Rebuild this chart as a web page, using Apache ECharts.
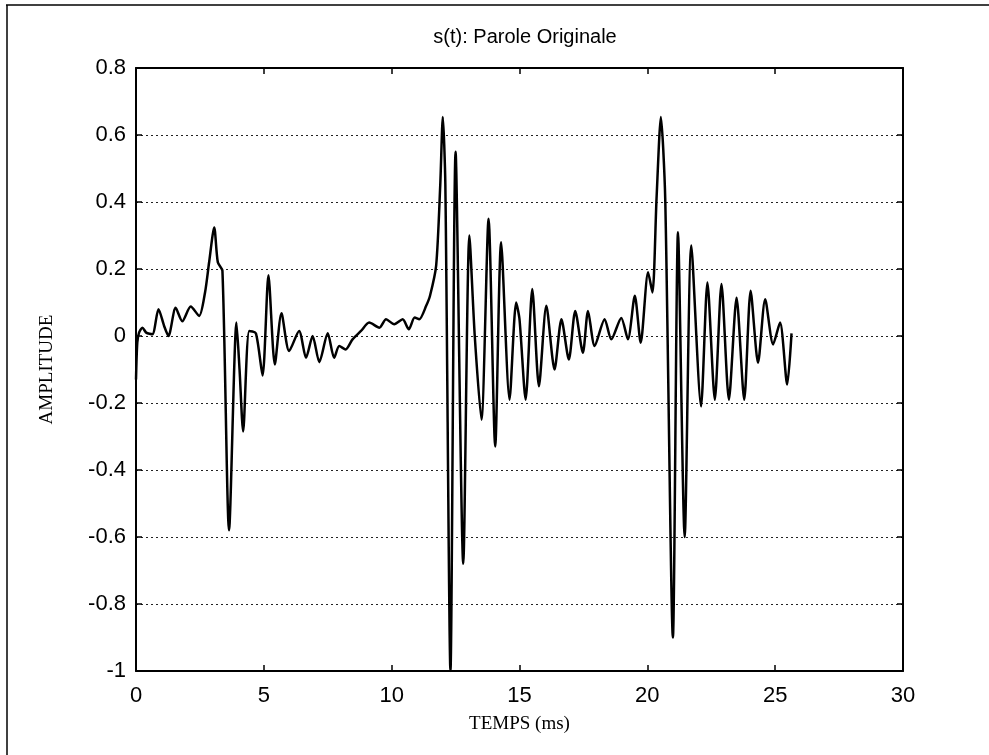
<!DOCTYPE html>
<html>
<head>
<meta charset="utf-8">
<script src="https://cdn.jsdelivr.net/npm/echarts@6/dist/echarts.min.js"></script>
<style>
html,body{margin:0;padding:0;background:#fff;}
#chart{width:989px;height:755px;}
</style>
</head>
<body>
<div id="chart"></div>
<script>
// Time (ms) of the traced points
var timeMs = [0, 0.05, 0.12, 0.25, 0.4, 0.64, 0.88, 1.1, 1.27, 1.55, 1.81, 2.14, 2.47, 2.7, 2.86, 3.06, 3.2, 3.38, 3.64, 3.93, 4.05, 4.19, 4.43, 4.69, 4.95, 5.18, 5.43, 5.69, 5.99, 6.38, 6.65, 6.91, 7.17, 7.5, 7.75, 7.95, 8.2, 8.47, 8.8, 9.12, 9.52, 9.78, 10.1, 10.43, 10.67, 10.9, 11.08, 11.35, 11.5, 11.74, 11.9, 12.0, 12.1, 12.3, 12.5, 12.8, 13.04, 13.25, 13.51, 13.79, 14.05, 14.28, 14.61, 14.87, 15.0, 15.24, 15.5, 15.76, 16.05, 16.37, 16.64, 16.93, 17.18, 17.48, 17.68, 17.94, 18.33, 18.59, 18.98, 19.24, 19.51, 19.74, 20.03, 20.2, 20.36, 20.53, 20.7, 21.0, 21.2, 21.46, 21.72, 22.1, 22.35, 22.64, 22.9, 23.19, 23.49, 23.79, 24.04, 24.33, 24.61, 24.92, 25.19, 25.47, 25.64];
// Amplitude of s(t)
var amplitude = [-0.13, -0.02, 0.01, 0.025, 0.01, 0.005, 0.08, 0.03, 0.0, 0.084, 0.044, 0.088, 0.06, 0.13, 0.22, 0.324, 0.22, 0.195, -0.58, 0.04, -0.1, -0.285, 0.015, 0.008, -0.118, 0.181, -0.085, 0.068, -0.045, 0.015, -0.065, 0.0, -0.078, 0.008, -0.065, -0.03, -0.04, -0.01, 0.015, 0.04, 0.025, 0.05, 0.035, 0.05, 0.02, 0.055, 0.05, 0.09, 0.12, 0.21, 0.45, 0.654, 0.45, -1.0, 0.55, -0.68, 0.30, 0.0, -0.25, 0.35, -0.33, 0.28, -0.19, 0.10, 0.05, -0.19, 0.14, -0.15, 0.09, -0.10, 0.05, -0.07, 0.075, -0.05, 0.075, -0.03, 0.05, -0.01, 0.054, -0.01, 0.12, -0.02, 0.19, 0.13, 0.41, 0.654, 0.41, -0.9, 0.31, -0.6, 0.27, -0.21, 0.16, -0.19, 0.155, -0.19, 0.114, -0.19, 0.135, -0.08, 0.11, -0.025, 0.04, -0.145, 0.008];

var chartTitle = 's(t): Parole Originale';
var xName = 'TEMPS (ms)';
var yName = 'AMPLITUDE';

var pts = timeMs.map(function (t, i) { return [t, amplitude[i]]; });

var chart = echarts.init(document.getElementById('chart'));
var sans = '"Liberation Sans", Arial, sans-serif';
var serif = '"Liberation Serif", "Times New Roman", serif';

var baseX = {
  type: 'value', min: 0, max: 30, interval: 5,
  axisLine: { show: true, onZero: false, lineStyle: { color: '#000', width: 2 } },
  axisTick: { show: true, inside: true, length: 6, lineStyle: { color: '#000', width: 1.5 } },
  splitLine: { show: false }
};
var baseY = {
  type: 'value', min: -1, max: 0.8, interval: 0.2,
  axisLine: { show: true, onZero: false, lineStyle: { color: '#000', width: 2 } },
  axisTick: { show: true, inside: true, length: 6, lineStyle: { color: '#000', width: 1.5 } }
};

chart.setOption({
  backgroundColor: '#fff',
  animation: false,
  title: {
    text: chartTitle, left: 520, top: 22, textAlign: 'center',
    textStyle: { fontFamily: sans, fontSize: 20, fontWeight: 'normal', color: '#000' }
  },
  grid: { left: 136, right: 86, top: 68, bottom: 84, containLabel: false },
  graphic: [
    { type: 'line', shape: { x1: 6, y1: 5, x2: 989, y2: 5 }, style: { stroke: '#000', lineWidth: 1.5 } },
    { type: 'line', shape: { x1: 7, y1: 5, x2: 7, y2: 755 }, style: { stroke: '#000', lineWidth: 1.5 } }
  ],
  xAxis: [
    Object.assign({}, baseX, {
      position: 'bottom',
      name: xName, nameLocation: 'middle', nameGap: 44,
      nameTextStyle: { fontFamily: serif, fontSize: 19, color: '#000' },
      axisLabel: { show: true, margin: 14, fontFamily: sans, fontSize: 22, color: '#000' }
    }),
    Object.assign({}, baseX, { position: 'top', axisLabel: { show: false } })
  ],
  yAxis: [
    Object.assign({}, baseY, {
      position: 'left',
      name: yName, nameLocation: 'middle', nameGap: 79, nameRotate: 90,
      nameTextStyle: { fontFamily: serif, fontSize: 19, color: '#000' },
      axisLabel: {
        show: true, margin: 10, fontFamily: sans, fontSize: 22, color: '#000',
        formatter: function (v) { return String(+v.toFixed(1)); }
      },
      splitLine: { show: true, lineStyle: { color: '#222', width: 1, type: [2, 3] } }
    }),
    Object.assign({}, baseY, { position: 'right', axisLabel: { show: false }, splitLine: { show: false } })
  ],
  series: [{
    type: 'line', data: pts, xAxisIndex: 0, yAxisIndex: 0,
    showSymbol: false, smooth: 0.25, clip: true,
    lineStyle: { color: '#000', width: 2.5 }
  }]
});
</script>
</body>
</html>
